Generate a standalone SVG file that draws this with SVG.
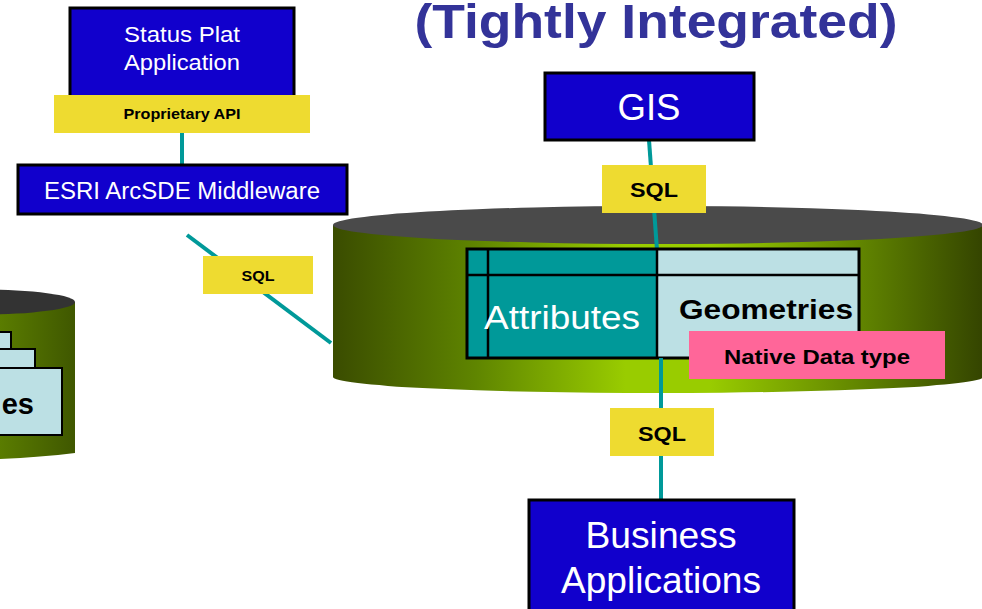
<svg xmlns="http://www.w3.org/2000/svg" width="982" height="609" viewBox="0 0 982 609">
<defs>
<linearGradient id="cylBig" x1="333" y1="0" x2="983" y2="0" gradientUnits="userSpaceOnUse">
<stop offset="0" stop-color="#3a4c00"/>
<stop offset="0.22" stop-color="#5f8500"/>
<stop offset="0.45" stop-color="#99cc00"/>
<stop offset="0.58" stop-color="#99cc00"/>
<stop offset="0.82" stop-color="#5f8200"/>
<stop offset="1" stop-color="#344400"/>
</linearGradient>
<linearGradient id="cylSmall" x1="0" y1="0" x2="76" y2="0" gradientUnits="userSpaceOnUse">
<stop offset="0" stop-color="#5a7c00"/>
<stop offset="1" stop-color="#3f5700"/>
</linearGradient>
<style>
.blue{fill:#1100cc;stroke:#000;stroke-width:3}
.yel{fill:#eedb30}
.wt{fill:#fff;font-family:"Liberation Sans",Arial,sans-serif;text-anchor:middle}
.bk{fill:#000;font-family:"Liberation Sans",Arial,sans-serif;font-weight:bold;text-anchor:middle}
.conn{stroke:#009999;stroke-width:4;fill:none}
.cell{fill:#bce0e4;stroke:#000;stroke-width:2}
</style>
</defs>
<rect width="982" height="609" fill="#fff"/>

<g id="title">
<text x="656" y="38" font-family="'Liberation Sans',Arial,sans-serif" font-weight="bold" font-size="49" fill="#333399" text-anchor="middle" textLength="483" lengthAdjust="spacingAndGlyphs">(Tightly Integrated)</text>
</g>

<g id="small-db">
<path d="M-60,302 L75,302 L75,453 Q20,460 -60,460 Z" fill="url(#cylSmall)"/>
<ellipse cx="-20" cy="302" rx="95" ry="12.5" fill="#333"/>
<rect x="-20" y="332" width="31" height="18" class="cell"/>
<rect x="-20" y="349" width="55" height="19" class="cell"/>
<rect x="-20" y="368" width="82" height="67" class="cell"/>
<text x="34" y="414" class="bk" font-size="29" style="text-anchor:end">es</text>
</g>

<g id="big-db">
<path d="M333,225 L333,377 A325,16 0 0 0 983,377 L983,225 Z" fill="url(#cylBig)"/>
<ellipse cx="658" cy="225" rx="325" ry="19" fill="#4a4a4a"/>
</g>

<g id="connectors">
<line class="conn" x1="182" y1="133" x2="182" y2="165"/>
<line class="conn" x1="187" y1="235" x2="331" y2="343"/>
<line class="conn" x1="649" y1="140" x2="657" y2="250"/>
<line class="conn" x1="661" y1="358" x2="661" y2="500"/>
</g>

<g id="table">
<rect x="467" y="249" width="190" height="109" fill="#009999"/>
<rect x="657" y="249" width="202" height="109" fill="#bce0e4"/>
<rect x="467" y="249" width="392" height="109" fill="none" stroke="#000" stroke-width="3"/>
<line x1="467" y1="275" x2="859" y2="275" stroke="#000" stroke-width="2.5"/>
<line x1="488" y1="249" x2="488" y2="358" stroke="#000" stroke-width="2.5"/>
<line x1="657" y1="249" x2="657" y2="358" stroke="#000" stroke-width="2.5"/>
<line class="conn" x1="661" y1="358" x2="661" y2="380"/>
<text x="562" y="329" class="wt" font-size="33" textLength="156" lengthAdjust="spacingAndGlyphs">Attributes</text>
<text x="766" y="319" class="bk" font-size="28" textLength="174" lengthAdjust="spacingAndGlyphs">Geometries</text>
</g>

<g id="native-data-type">
<rect x="689" y="331" width="256" height="48" fill="#ff6699"/>
<text x="817" y="364" class="bk" font-size="20" textLength="186" lengthAdjust="spacingAndGlyphs">Native Data type</text>
</g>

<g id="status-plat">
<rect x="70" y="8" width="224" height="92" class="blue"/>
<text x="182" y="42" class="wt" font-size="22" textLength="116" lengthAdjust="spacingAndGlyphs">Status Plat</text>
<text x="182" y="70" class="wt" font-size="22" textLength="116" lengthAdjust="spacingAndGlyphs">Application</text>
</g>

<g id="proprietary-api">
<rect x="54" y="95" width="256" height="38" class="yel"/>
<text x="182" y="119" class="bk" font-size="15" textLength="117" lengthAdjust="spacingAndGlyphs">Proprietary API</text>
</g>

<g id="esri-arcsde">
<rect x="18" y="165" width="329" height="49" class="blue"/>
<text x="182" y="199" class="wt" font-size="23" textLength="276" lengthAdjust="spacingAndGlyphs">ESRI ArcSDE Middleware</text>
</g>

<g id="sql-left">
<rect x="203" y="256" width="110" height="38" class="yel"/>
<text x="258" y="281" class="bk" font-size="15" textLength="33" lengthAdjust="spacingAndGlyphs">SQL</text>
</g>

<g id="gis">
<rect x="545" y="73" width="209" height="67" class="blue"/>
<text x="649" y="120" class="wt" font-size="36" textLength="63" lengthAdjust="spacingAndGlyphs">GIS</text>
</g>

<g id="sql-top">
<rect x="602" y="165" width="104" height="48" class="yel"/>
<text x="654" y="197" class="bk" font-size="21" textLength="48" lengthAdjust="spacingAndGlyphs">SQL</text>
</g>

<g id="sql-bottom">
<rect x="610" y="408" width="104" height="48" class="yel"/>
<text x="662" y="441" class="bk" font-size="21" textLength="48" lengthAdjust="spacingAndGlyphs">SQL</text>
</g>

<g id="business-applications">
<rect x="529" y="500" width="265" height="115" class="blue"/>
<text x="661" y="548" class="wt" font-size="36" textLength="151" lengthAdjust="spacingAndGlyphs">Business</text>
<text x="661" y="593" class="wt" font-size="36" textLength="200" lengthAdjust="spacingAndGlyphs">Applications</text>
</g>
</svg>
